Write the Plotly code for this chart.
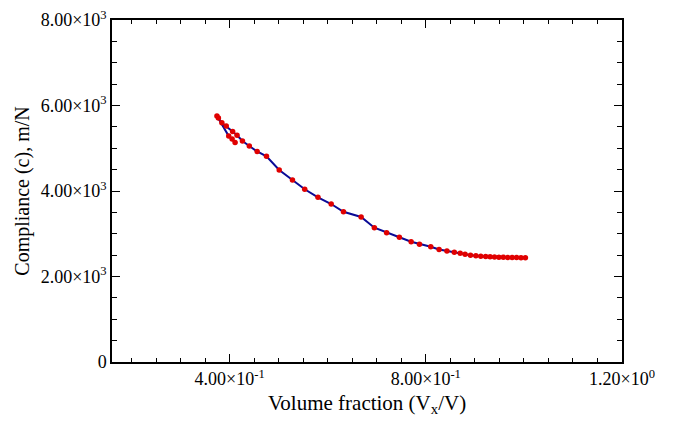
import plotly.graph_objects as go

# volume fraction / compliance path
vol_frac = [1.003, 0.994, 0.985, 0.976, 0.967, 0.958, 0.949, 0.940, 0.931,
            0.922, 0.912, 0.902, 0.891, 0.880, 0.870, 0.858, 0.843, 0.827,
            0.810, 0.787, 0.770, 0.746, 0.720, 0.695, 0.668, 0.632, 0.607,
            0.580, 0.553, 0.528, 0.501, 0.475, 0.456, 0.440, 0.426, 0.415,
            0.406, 0.393, 0.384, 0.377, 0.374, 0.398, 0.405, 0.411]
compliance = [2440, 2440, 2442, 2444, 2446, 2448, 2451, 2455, 2460,
              2466, 2474, 2484, 2496, 2521, 2543, 2566, 2596, 2631,
              2695, 2755, 2814, 2917, 3024, 3141, 3392, 3513, 3696,
              3852, 4040, 4257, 4491, 4811, 4924, 5052, 5169, 5303,
              5391, 5520, 5597, 5707, 5754, 5286, 5216, 5134]

x_ticks = [0.4, 0.8, 1.2]
x_labels = ["4.00×10<sup>-1</sup>", "8.00×10<sup>-1</sup>", "1.20×10<sup>0</sup>"]
y_ticks = [0, 2000, 4000, 6000, 8000]
y_labels = ["0", "2.00×10<sup>3</sup>", "4.00×10<sup>3</sup>",
            "6.00×10<sup>3</sup>", "8.00×10<sup>3</sup>"]

serif = "Liberation Serif, Times New Roman, serif"

fig = go.Figure(go.Scatter(
    x=vol_frac, y=compliance, mode="lines+markers",
    line=dict(color="#0a0a96", width=2),
    marker=dict(color="#e00000", size=5.5),
    showlegend=False,
))

axis_common = dict(
    showline=True, linecolor="black", linewidth=1.5, mirror="ticks",
    ticks="inside", ticklen=8, tickwidth=1, tickcolor="black",
    showgrid=False, zeroline=False, automargin=False,
    ticklabeloverflow="allow",
    tickfont=dict(family=serif, size=18, color="black"),
)

fig.update_xaxes(
    range=[0.16, 1.2], tickvals=x_ticks, ticktext=x_labels,
    minor=dict(dtick=0.05, tick0=0, ticks="inside", ticklen=4,
               tickcolor="black", showgrid=False),
    title=dict(text="Volume fraction (V<sub>x</sub>/V)",
               font=dict(family=serif, size=21, color="black"), standoff=17),
    **axis_common,
)
fig.update_yaxes(
    range=[0, 8000], tickvals=y_ticks, ticktext=y_labels,
    minor=dict(dtick=500, tick0=0, ticks="inside", ticklen=5,
               tickcolor="black", showgrid=False),
    title=dict(text="Compliance (c), m/N",
               font=dict(family=serif, size=20, color="black"), standoff=6),
    **axis_common,
)

# page body has an 8px margin, so the figure is sized to fit inside it
fig.update_layout(
    width=658, height=409,
    margin=dict(l=104, r=44, t=12, b=55),
    plot_bgcolor="white", paper_bgcolor="white",
)

fig.write_html("out.html")
